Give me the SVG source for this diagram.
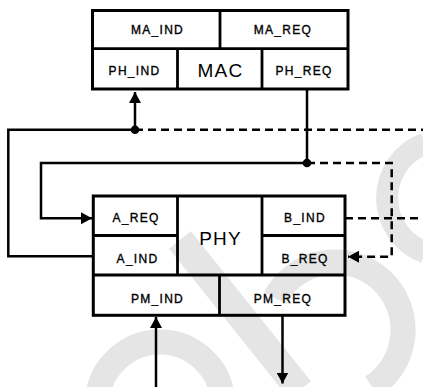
<svg xmlns="http://www.w3.org/2000/svg" width="423" height="387" viewBox="0 0 423 387">
<style>
.wm{fill:none;stroke:#e5e5e5;stroke-linecap:butt}
.box{fill:none;stroke:#000;stroke-width:3}
.div{stroke:#000;stroke-width:2.8}
.lbl{font-family:"Liberation Sans",Arial,sans-serif;font-size:12px;letter-spacing:1.3px;text-anchor:middle;fill:#000;stroke:#000;stroke-width:0.35}
.big{font-family:"Liberation Sans",Arial,sans-serif;font-size:19px;letter-spacing:1.2px;text-anchor:middle;fill:#000}
.ln{fill:none;stroke:#000;stroke-width:2.5}
.dash{fill:none;stroke:#000;stroke-width:2.5;stroke-dasharray:8 5}
</style>
<defs>
<marker id="arr" markerUnits="userSpaceOnUse" markerWidth="12" markerHeight="12" refX="11" refY="6" orient="auto">
<path d="M0,0 L11,6 L0,12 z" fill="#000"/>
</marker>
</defs>
<rect width="423" height="387" fill="#fff"/>
<g id="watermark">
<path class="wm" stroke-width="25" d="M97.2 400 A63 63 0 0 1 222.8 400"/>
<path class="wm" stroke-width="28" d="M180 240 L300 390"/>
<path class="wm" stroke-width="25" d="M275 298 A68 68 0 1 1 372 387"/>
<path class="wm" stroke-width="22" d="M425 143.6 A58 58 0 0 0 425 252.4"/>
</g>
<g id="MAC">
<rect class="box" x="92.5" y="10.5" width="255.5" height="78.5"/>
<line class="div" x1="92.5" y1="48.7" x2="348" y2="48.7"/>
<line class="div" x1="220" y1="10.5" x2="220" y2="48.7"/>
<line class="div" x1="177.5" y1="48.7" x2="177.5" y2="89"/>
<line class="div" x1="262" y1="48.7" x2="262" y2="89"/>
<text class="lbl" x="157.5" y="33.5">MA_IND</text>
<text class="lbl" x="283" y="33.5">MA_REQ</text>
<text class="lbl" x="134.5" y="75">PH_IND</text>
<text class="big" x="220.5" y="76.5">MAC</text>
<text class="lbl" x="304" y="75">PH_REQ</text>
</g>
<g id="PHY">
<rect class="box" x="93.3" y="196" width="251.7" height="119.3"/>
<line class="div" x1="177.5" y1="196" x2="177.5" y2="275"/>
<line class="div" x1="262" y1="196" x2="262" y2="275"/>
<line class="div" x1="93.3" y1="235.5" x2="177.5" y2="235.5"/>
<line class="div" x1="262" y1="235.5" x2="345" y2="235.5"/>
<line class="div" x1="93.3" y1="275" x2="345" y2="275"/>
<line class="div" x1="219.5" y1="275" x2="219.5" y2="315.3"/>
<text class="lbl" x="136" y="222">A_REQ</text>
<text class="lbl" x="137.5" y="263">A_IND</text>
<text class="big" x="220.5" y="245">PHY</text>
<text class="lbl" x="305" y="222">B_IND</text>
<text class="lbl" x="305" y="263">B_REQ</text>
<text class="lbl" x="157.5" y="302.5">PM_IND</text>
<text class="lbl" x="283" y="302.5">PM_REQ</text>
</g>
<g id="connectors">
<path class="ln" d="M135 129.7 L135 92" marker-end="url(#arr)"/>
<path class="ln" d="M135 129.7 L8.3 129.7 L8.3 256.3 L93.3 256.3"/>
<path class="dash" d="M135 129.7 L423 129.7"/>
<circle cx="135" cy="129.7" r="4.3" fill="#000"/>
<path class="ln" d="M307 89 L307 163"/>
<path class="ln" d="M307 163 L41 163 L41 218.3 L92 218.3" marker-end="url(#arr)"/>
<path class="dash" d="M307 163 L391.7 163 L391.7 256.7 L348 256.7" marker-end="url(#arr)"/>
<circle cx="307" cy="163" r="4.3" fill="#000"/>
<path class="dash" d="M345 218.3 L423 218.3"/>
<path class="ln" d="M156 387 L156 317" marker-end="url(#arr)"/>
<path class="ln" d="M282.5 316 L282.5 383.5" marker-end="url(#arr)"/>
</g>
</svg>
